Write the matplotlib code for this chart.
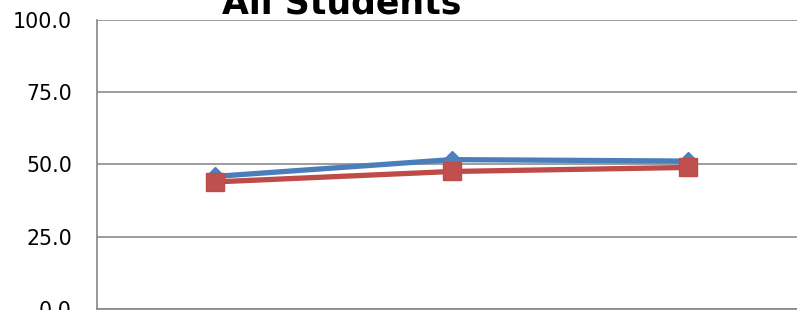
import matplotlib
matplotlib.use("Agg")
import matplotlib.pyplot as plt

categories = ["1", "2", "3"]
series_a = [45.8, 51.6, 51.1]
series_b = [43.9, 47.5, 48.9]
yticks = [0, 25, 50, 75, 100]
title = "All Students"

W, H = 797, 310
fig = plt.figure(figsize=(W / 100, H / 100), dpi=100)
left, right, bottom, top = 97, 806, 309, 19.5
ax = fig.add_axes([left / W, (H - bottom) / H, (right - left) / W, (bottom - top) / H])

x = list(range(len(categories)))
ax.plot(x, series_a, color="#4A7EBB", lw=3.8, marker="D", ms=8.8, mew=1, mec="#4A7EBB", mfc="#4F81BD", zorder=3, solid_capstyle="butt")
ax.plot(x, series_b, color="#BE4B48", lw=3.8, marker="s", ms=13.5, mew=1, mec="#BE4B48", mfc="#C0504D", zorder=4, solid_capstyle="butt")

ax.set_xlim(-0.5, 2.5)
ax.set_ylim(0, 100)
ax.set_yticks(yticks)
ax.set_yticklabels([f"{v:.1f}" for v in yticks])
ax.set_xticks([])
ax.grid(axis="y", color="#8C8C8C", lw=1.2)
ax.set_axisbelow(True)
for s in ["top", "right"]:
    ax.spines[s].set_visible(False)
for s in ["left", "bottom"]:
    ax.spines[s].set_color("#868686")
    ax.spines[s].set_linewidth(1.2)
ax.tick_params(axis="y", length=0, pad=18, labelsize=14.8, colors="black")

fig.text(342 / W, 1 - 14 / H, title, ha="center", va="baseline", fontsize=25, fontweight="bold")

fig.savefig("out.png", dpi=100)
